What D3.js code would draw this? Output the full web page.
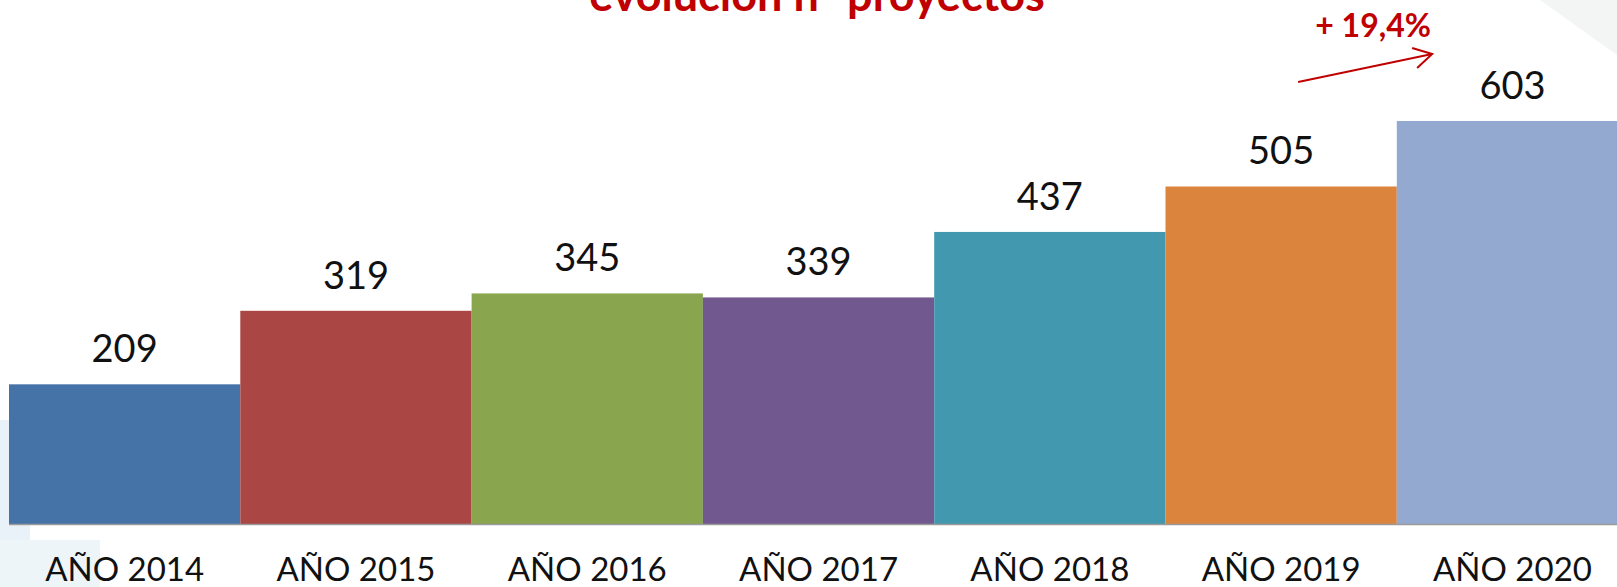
<!DOCTYPE html>
<html>
<head>
<meta charset="utf-8">
<script src="https://cdn.jsdelivr.net/npm/d3@7"></script>
<style>
  body { margin: 0; background: #fff; overflow: hidden; }
  #svgcontainer { width: 1617px; height: 587px; }
</style>
</head>
<body>
<div id="svgcontainer"></div>
<script>
// data
var categories = ["AÑO 2014", "AÑO 2015", "AÑO 2016", "AÑO 2017", "AÑO 2018", "AÑO 2019", "AÑO 2020"];
var proyectos = [209, 319, 345, 339, 437, 505, 603];
var barColors = ["#4572A7", "#AA4643", "#89A54E", "#71588F", "#4198AF", "#DB843D", "#93A9CF"];
var titulo = "evolución nº proyectos";
var crecimiento = "+ 19,4%";

var width = 1617, height = 587;
var baseY = 524;

var svg = d3.select("#svgcontainer")
    .append("svg")
    .attr("width", width)
    .attr("height", height);

// faint background watermark
var bg = svg.append("g");
bg.append("rect").attr("x", 0).attr("y", 420).attr("width", 30).attr("height", 167)
  .style("fill", "#e4eff6").style("opacity", 0.8);
bg.append("rect").attr("x", 0).attr("y", 540).attr("width", 100).attr("height", 47)
  .style("fill", "#eef5f9");
bg.append("path").attr("d", "M1540,0 L1617,0 L1617,55 Z")
  .style("fill", "#f3f5f5");

var x = d3.scaleBand()
    .domain(categories)
    .range([9, 9 + 7 * 231.3])
    .padding(0);

var y = d3.scaleLinear()
    .domain([0, 603])
    .range([baseY, 121]);

// bars
svg.selectAll("rect.bar")
  .data(proyectos)
  .enter().append("rect")
  .attr("class", "bar")
  .attr("x", function(d, i){ return x(categories[i]); })
  .attr("y", function(d){ return y(d); })
  .attr("width", x.bandwidth())
  .attr("height", function(d){ return y(0) - y(d); })
  .style("fill", function(d, i){ return barColors[i]; });

// baseline
svg.append("line")
  .attr("x1", 9)
  .attr("x2", width)
  .attr("y1", baseY + 0.5)
  .attr("y2", baseY + 0.5)
  .style("stroke", "#9a9a9a")
  .style("stroke-width", 1.5);

// value labels
svg.selectAll("text.val")
  .data(proyectos)
  .enter().append("text")
  .attr("class", "val")
  .attr("x", function(d, i){ return x(categories[i]) + x.bandwidth() / 2; })
  .attr("y", function(d){ return y(d) - 22; })
  .attr("text-anchor", "middle")
  .style("font-family", "Lato, 'Open Sans', sans-serif")
  .style("font-size", "38px")
  .style("fill", "#111")
  .text(function(d){ return d; });

// category labels
var xAxis = d3.axisBottom(x).tickSize(0).tickPadding(0);
var ax = svg.append("g")
  .attr("transform", "translate(0," + (baseY + 57) + ")")
  .call(xAxis);
ax.select(".domain").remove();
ax.selectAll("text")
  .attr("dy", "0")
  .style("font-family", "Lato, 'Open Sans', sans-serif")
  .style("font-size", "33px")
  .style("fill", "#111");

// title (cut at top, as in the original)
svg.append("text")
  .attr("x", 817)
  .attr("y", 11)
  .attr("text-anchor", "middle")
  .style("font-family", "Lato, 'Open Sans', sans-serif")
  .style("font-weight", "bold")
  .style("font-size", "45px")
  .style("fill", "#C00000")
  .text(titulo);

// growth annotation
var x19 = x("AÑO 2019") + x.bandwidth() / 2;
svg.append("text")
  .attr("x", x19 + 92)
  .attr("y", 37)
  .attr("text-anchor", "middle")
  .style("font-family", "Lato, 'Open Sans', sans-serif")
  .style("font-weight", "bold")
  .style("font-size", "32px")
  .style("fill", "#C00000")
  .text(crecimiento);

var a0 = { x: x19 + 17, y: 82 };
var a1 = { x: x19 + 151, y: 54 };
svg.append("line")
  .attr("x1", a0.x).attr("y1", a0.y)
  .attr("x2", a1.x).attr("y2", a1.y)
  .style("stroke", "#C00000")
  .style("stroke-width", 2);
svg.append("path")
  .attr("d", "M" + (a1.x - 20) + "," + (a1.y - 6) + " L" + a1.x + "," + a1.y + " L" + (a1.x - 15) + "," + (a1.y + 14))
  .style("fill", "none")
  .style("stroke", "#C00000")
  .style("stroke-width", 2);
</script>
</body>
</html>
